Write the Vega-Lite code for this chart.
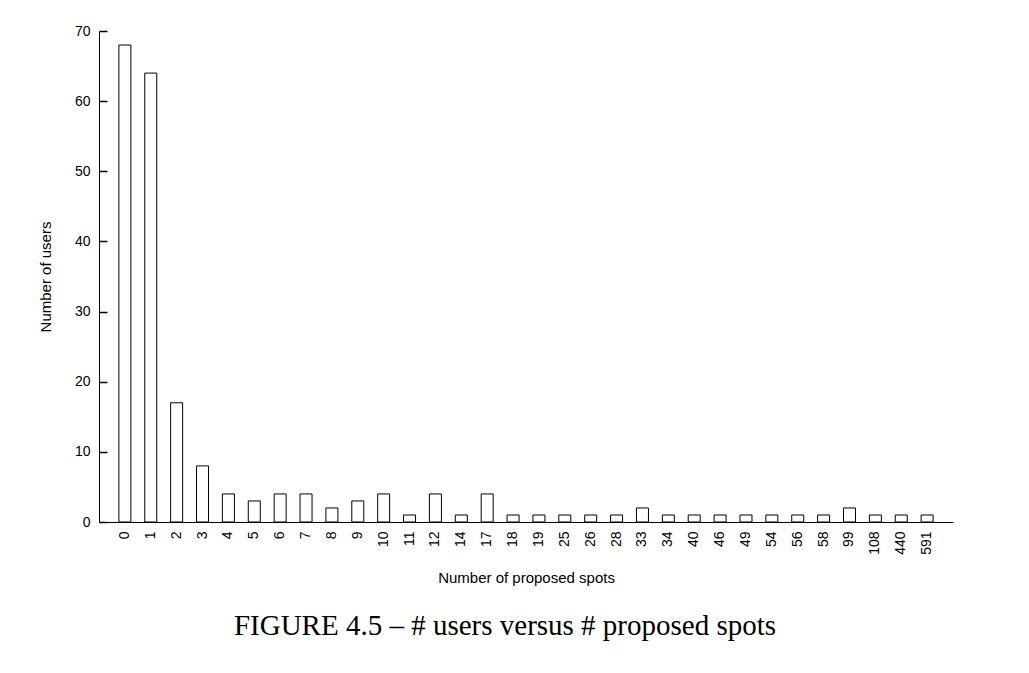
{
  "$schema": "https://vega.github.io/schema/vega-lite/v6.json",
  "autosize": "none",
  "width": 854,
  "height": 491,
  "padding": {"left": 99, "top": 31, "right": 76, "bottom": 151},
  "background": "white",
  "config": {
    "view": {"stroke": null},
    "font": "Liberation Sans",
    "axis": {"grid": false, "domainColor": "black", "labelColor": "black", "titleColor": "black", "labelFont": "Liberation Sans", "titleFont": "Liberation Sans", "titleFontWeight": "normal"}
  },
  "title": {
    "text": "FIGURE 4.5 – # users versus # proposed spots",
    "orient": "bottom",
    "anchor": "middle",
    "font": "Liberation Serif",
    "fontSize": 29,
    "fontWeight": "normal",
    "color": "black",
    "offset": 27,
    "dx": -21
  },
  "data": {
    "values": [
      {"spots": "0", "users": 68},
      {"spots": "1", "users": 64},
      {"spots": "2", "users": 17},
      {"spots": "3", "users": 8},
      {"spots": "4", "users": 4},
      {"spots": "5", "users": 3},
      {"spots": "6", "users": 4},
      {"spots": "7", "users": 4},
      {"spots": "8", "users": 2},
      {"spots": "9", "users": 3},
      {"spots": "10", "users": 4},
      {"spots": "11", "users": 1},
      {"spots": "12", "users": 4},
      {"spots": "14", "users": 1},
      {"spots": "17", "users": 4},
      {"spots": "18", "users": 1},
      {"spots": "19", "users": 1},
      {"spots": "25", "users": 1},
      {"spots": "26", "users": 1},
      {"spots": "28", "users": 1},
      {"spots": "33", "users": 2},
      {"spots": "34", "users": 1},
      {"spots": "40", "users": 1},
      {"spots": "46", "users": 1},
      {"spots": "49", "users": 1},
      {"spots": "54", "users": 1},
      {"spots": "56", "users": 1},
      {"spots": "58", "users": 1},
      {"spots": "99", "users": 2},
      {"spots": "108", "users": 1},
      {"spots": "440", "users": 1},
      {"spots": "591", "users": 1}
    ]
  },
  "mark": {"type": "bar", "fill": "white", "stroke": "black", "strokeWidth": 1},
  "encoding": {
    "x": {
      "field": "spots",
      "type": "ordinal",
      "sort": null,
      "scale": {"paddingInner": 0.536, "paddingOuter": 0.768},
      "axis": {
        "title": "Number of proposed spots",
        "titleFontSize": 15,
        "titleX": 427,
        "titleY": 55,
        "titleBaseline": "middle",
        "labelAngle": 270,
        "labelFontSize": 14,
        "labelPadding": 9,
        "ticks": false
      }
    },
    "y": {
      "field": "users",
      "type": "quantitative",
      "scale": {"domain": [0, 70], "nice": false},
      "axis": {
        "title": "Number of users",
        "titleFontSize": 15,
        "titleX": -54,
        "titleY": 245.5,
        "titleAngle": -90,
        "titleAlign": "center",
        "titleBaseline": "middle",
        "tickCount": 7,
        "labelFontSize": 14,
        "ticks": true,
        "tickColor": "#000000",
        "tickSize": -8,
        "tickWidth": 1.5,
        "labelPadding": 17
      }
    }
  }
}
